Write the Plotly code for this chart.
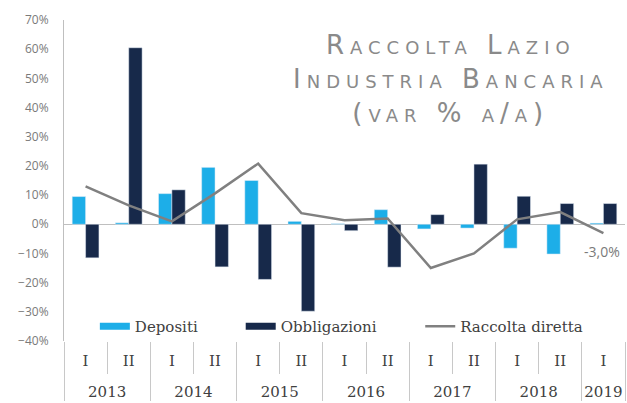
import plotly.graph_objects as go

years = ["2013", "2013", "2014", "2014", "2015", "2015", "2016", "2016",
         "2017", "2017", "2018", "2018", "2019"]
halves = ["I", "II", "I", "II", "I", "II", "I", "II", "I", "II", "I", "II", "I"]

depositi = [9.5, 0.5, 10.5, 19.5, 15.0, 1.0, 0.2, 5.0, -1.6, -1.3, -8.2, -10.2, 0.4]
obbligazioni = [-11.5, 60.5, 11.8, -14.6, -18.9, -29.8, -2.2, -14.7, 3.3, 20.6, 9.6, 7.1, 7.1]
raccolta = [13.0, 6.5, 1.0, 10.6, 20.8, 3.8, 1.4, 2.0, -15.0, -10.0, 1.7, 4.2, -3.0]
last_label = "-3,0%"

title_lines = ["Raccolta Lazio", "Industria Bancaria", "(var % a/a)"]

C_DEP = "#1DAEE8"
C_OBB = "#17294A"
C_LINE = "#808080"

# inner labels get an extra empty line so the year row sits lower
x = [years, [h + "<br> " for h in halves]]

fig = go.Figure()
fig.add_trace(go.Bar(x=x, y=depositi, name="Depositi", marker_color=C_DEP,
                     showlegend=False))
fig.add_trace(go.Bar(x=x, y=obbligazioni, name="Obbligazioni", marker_color=C_OBB,
                     showlegend=False))
fig.add_trace(go.Scatter(x=x, y=raccolta, name="Raccolta diretta", mode="lines",
                         line=dict(color=C_LINE, width=2.5), showlegend=False))

fig.add_annotation(xref="x", yref="y", x=len(raccolta) - 1, y=raccolta[-1],
                   text=last_label, showarrow=False, yshift=-18, xshift=-1,
                   font=dict(family="Open Sans", size=14, color="#7a7a7a"))

# legend entries
for name, col, w, lg in [("Depositi", C_DEP, 7, "legend"),
                         ("Obbligazioni", C_OBB, 7, "legend2"),
                         ("Raccolta diretta", C_LINE, 2.5, "legend3")]:
    fig.add_trace(go.Scatter(x=[None], y=[None], mode="lines", name=name,
                             line=dict(color=col, width=w), legend=lg, showlegend=True))

leg_common = dict(orientation="h", yanchor="middle", xanchor="left",
                  bgcolor="rgba(0,0,0,0)", itemwidth=30,
                  font=dict(family="DejaVu Serif", size=15, color="#404040"))
fig.update_layout(
    legend=dict(x=0.055, y=0.045, **leg_common),
    legend2=dict(x=0.315, y=0.045, **leg_common),
    legend3=dict(x=0.635, y=0.045, **leg_common),
)

fig.update_layout(
    width=627, height=403,
    margin=dict(l=64, r=2, t=20, b=62, autoexpand=False),
    paper_bgcolor="white", plot_bgcolor="white",
    barmode="group", bargap=0.38, bargroupgap=0,
    font=dict(family="DejaVu Serif", color="#404040"),
    xaxis=dict(type="multicategory", range=[-0.5, len(halves) - 0.5],
               showline=False, showgrid=False, automargin=False,
               ticks="outside", tickson="boundaries", ticklen=32, tickcolor="#c8c8c8",
               showdividers=True, dividercolor="#c8c8c8", dividerwidth=1,
               ticklabelstandoff=9,
               tickfont=dict(family="DejaVu Serif", size=15, color="#404040")),
    yaxis=dict(range=[-40, 70], dtick=10, ticksuffix="%", showgrid=False, automargin=False,
               zeroline=True, zerolinecolor="#bfbfbf", zerolinewidth=1,
               showline=True, linecolor="#bfbfbf", linewidth=1,
               ticklabelstandoff=12,
               tickfont=dict(family="Open Sans", size=12, color="#7a7a7a")),
)

title_text = "<br>".join('<span style="letter-spacing:6px">' + t + "</span>"
                         for t in title_lines)
fig.add_annotation(xref="paper", yref="paper", x=0.690, y=0.816, xanchor="center",
                   yanchor="middle", showarrow=False, align="center",
                   text=title_text,
                   font=dict(family="DejaVu Sans", size=26, color="#8a8a8a",
                             variant="small-caps"))

fig.write_html("out.html", config={"displayModeBar": False})

# remove the browser's default page margin so the figure sits at (0, 0)
with open("out.html", encoding="utf-8") as f:
    html = f.read()
html = html.replace("<head>", "<head><style>html,body{margin:0;padding:0;}</style>", 1)
with open("out.html", "w", encoding="utf-8") as f:
    f.write(html)
